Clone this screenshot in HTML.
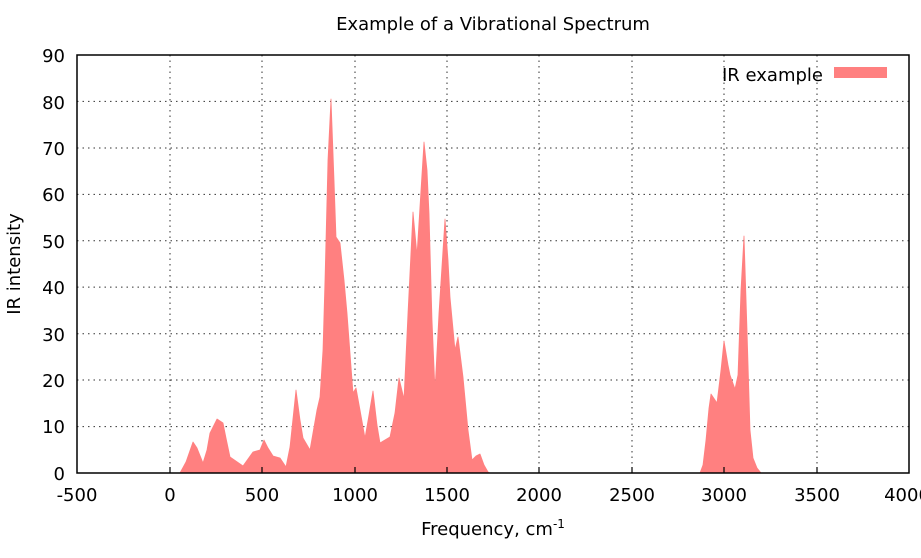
<!DOCTYPE html>
<html><head><style>
body{margin:0;background:#fff}
svg{display:block;font-family:"DejaVu Sans","Liberation Sans",sans-serif}
</style></head><body>
<svg width="921" height="558" viewBox="0 0 921 558">
<rect width="921" height="558" fill="#fff"/>
<g stroke="#000" stroke-width="1" stroke-dasharray="1.5,4" opacity="0.8">
<line x1="77" y1="426.6" x2="909" y2="426.6"/><line x1="77" y1="380" x2="909" y2="380"/>
<line x1="77" y1="333.7" x2="909" y2="333.7"/><line x1="77" y1="287.1" x2="909" y2="287.1"/>
<line x1="77" y1="240.8" x2="909" y2="240.8"/><line x1="77" y1="194.4" x2="909" y2="194.4"/>
<line x1="77" y1="148" x2="909" y2="148"/><line x1="77" y1="101.4" x2="909" y2="101.4"/>
<line x1="170" y1="55" x2="170" y2="473"/><line x1="262" y1="55" x2="262" y2="473"/>
<line x1="355" y1="55" x2="355" y2="473"/><line x1="447" y1="55" x2="447" y2="473"/>
<line x1="539" y1="55" x2="539" y2="473"/><line x1="632" y1="55" x2="632" y2="473"/>
<line x1="724" y1="55" x2="724" y2="473"/><line x1="817" y1="55" x2="817" y2="473"/>
</g>
<path fill="#ff8080" stroke="#ff8080" stroke-width="0.8" stroke-linejoin="round" d="M180,473 L186,462 L193,442 L197,448 L203,463 L207,450 L210,433 L217,419 L223,423 L226,438 L230,457 L243,466 L253,452 L260,450 L264,440 L268,448 L273,456 L280,458 L286,467 L290,447 L296,390 L300,420 L303,438 L310,450 L317,410 L320,397 L323,350 L325,280 L328,160 L331,99 L334,180 L336,237 L340,243 L344,280 L347,313 L353,393 L356,388 L360,410 L365,438 L369,415 L373,391 L377,425 L380,443 L390,437 L395,413 L399,378 L404,399 L408,313 L413,212 L417,255 L421,190 L424,142 L427,170 L429,213 L432,320 L435,390 L439,313 L445,219 L448,260 L450,297 L455,350 L458,337 L463,377 L468,430 L472,460 L476,456 L480,454 L484,465 L488,472 L490,473 Z"/>
<path fill="#ff8080" stroke="#ff8080" stroke-width="0.8" stroke-linejoin="round" d="M700,473 L703,465 L706,440 L709,408 L711,394 L717,403 L721,370 L724,341 L728,365 L730,375 L735,389 L738,375 L741,290 L744,236 L747,330 L750,430 L753,458 L757,468 L761,473 Z"/>
<rect x="77" y="55" width="832" height="418" fill="none" stroke="#000" stroke-width="1.5"/>
<g stroke="#000" stroke-width="1.2">
<line x1="170" y1="473" x2="170" y2="467"/><line x1="262" y1="473" x2="262" y2="467"/>
<line x1="355" y1="473" x2="355" y2="467"/><line x1="447" y1="473" x2="447" y2="467"/>
<line x1="539" y1="473" x2="539" y2="467"/><line x1="632" y1="473" x2="632" y2="467"/>
<line x1="724" y1="473" x2="724" y2="467"/><line x1="817" y1="473" x2="817" y2="467"/>
</g>
<g font-size="18" fill="#000" text-anchor="end">
<text x="65" y="480">0</text><text x="65" y="433">10</text><text x="65" y="387">20</text>
<text x="65" y="341">30</text><text x="65" y="294">40</text><text x="65" y="248">50</text>
<text x="65" y="201">60</text><text x="65" y="155">70</text><text x="65" y="109">80</text>
<text x="65" y="62">90</text>
</g>
<g font-size="18" fill="#000" text-anchor="middle">
<text x="77" y="501">-500</text><text x="170" y="501">0</text><text x="262" y="501">500</text>
<text x="355" y="501">1000</text><text x="447" y="501">1500</text><text x="539" y="501">2000</text>
<text x="632" y="501">2500</text><text x="724" y="501">3000</text><text x="817" y="501">3500</text>
<text x="907" y="501">4000</text>
</g>
<text x="493" y="30" font-size="18" text-anchor="middle">Example of a Vibrational Spectrum</text>
<text x="493" y="535" font-size="18" text-anchor="middle">Frequency, cm<tspan font-size="12" dy="-7">-1</tspan></text>
<text transform="translate(20,264) rotate(-90)" font-size="18" text-anchor="middle">IR intensity</text>
<text x="823" y="81" font-size="18" text-anchor="end">IR example</text>
<rect x="834" y="67" width="53" height="11" fill="#ff8080"/>
</svg>
</body></html>
